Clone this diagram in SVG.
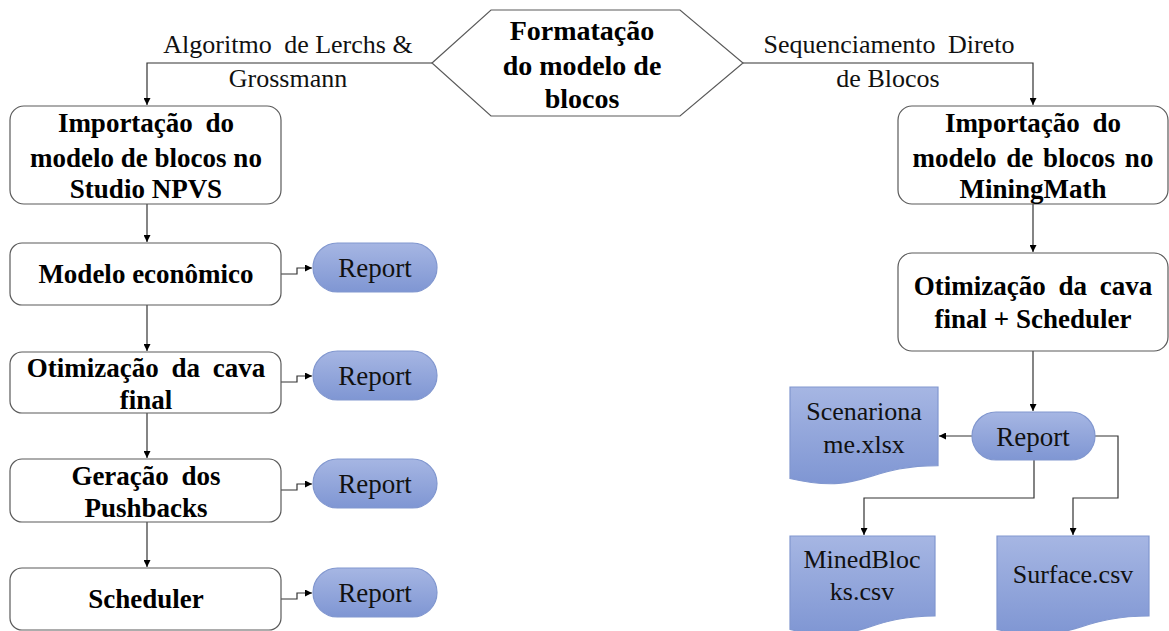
<svg xmlns="http://www.w3.org/2000/svg" width="1169" height="631" viewBox="0 0 1169 631">
<style>
.box{fill:#fff;stroke:#5a5a5a;stroke-width:1.2}
.blue{fill:url(#bg);stroke:#8197cf;stroke-width:1.2}
.bt{font-family:"Liberation Serif","Times New Roman",serif;font-weight:bold;font-size:27px;fill:#000;text-anchor:middle}
.ht{font-family:"Liberation Serif","Times New Roman",serif;font-weight:bold;font-size:28px;fill:#000;text-anchor:middle}
.rt{font-family:"Liberation Serif","Times New Roman",serif;font-size:26px;fill:#111;text-anchor:middle}
.pt{font-family:"Liberation Serif","Times New Roman",serif;font-size:27px;fill:#111;text-anchor:middle}
.ws{word-spacing:6px}
.ln{fill:none;stroke:#333;stroke-width:1.2}
</style>
<defs>
<linearGradient id="bg" x1="0" y1="0" x2="0" y2="1">
<stop offset="0" stop-color="#a6b6e3"/>
<stop offset="1" stop-color="#7f96d3"/>
</linearGradient>
<marker id="ar" viewBox="0 0 10 10" refX="10" refY="5" markerWidth="7" markerHeight="7" markerUnits="userSpaceOnUse" orient="auto">
<path d="M0,0 L10,5 L0,10 Z" fill="#000"/>
</marker>
</defs>
<rect width="1169" height="631" fill="#fff"/>

<g id="connectors">
<path class="ln" d="M432,63 H147 V105" marker-end="url(#ar)"/>
<path class="ln" d="M743,63 H1033 V105" marker-end="url(#ar)"/>
<path class="ln" d="M147,204 V242" marker-end="url(#ar)"/>
<path class="ln" d="M147,305 V351" marker-end="url(#ar)"/>
<path class="ln" d="M147,413 V458" marker-end="url(#ar)"/>
<path class="ln" d="M147,522 V567" marker-end="url(#ar)"/>
<path class="ln" d="M281,274 H297 V268 H312" marker-end="url(#ar)"/>
<path class="ln" d="M281,382 H297 V376 H312" marker-end="url(#ar)"/>
<path class="ln" d="M281,490 H297 V484 H312" marker-end="url(#ar)"/>
<path class="ln" d="M281,599 H297 V593 H312" marker-end="url(#ar)"/>
<path class="ln" d="M1033,204 V252" marker-end="url(#ar)"/>
<path class="ln" d="M1033,351 V411" marker-end="url(#ar)"/>
<path class="ln" d="M972,436 H939" marker-end="url(#ar)"/>
<path class="ln" d="M1034,460 V498 H864 V535" marker-end="url(#ar)"/>
<path class="ln" d="M1095,436 H1118 V498 H1073 V535" marker-end="url(#ar)"/>
<text class="rt" x="288" y="53"><tspan class="ws">Algoritmo </tspan>de Lerchs &amp;</text>
<text class="rt" x="288" y="87">Grossmann</text>
<text class="rt" x="889" y="53"><tspan class="ws">Sequenciamento </tspan>Direto</text>
<text class="rt" x="888" y="87">de Blocos</text>
</g>

<g id="hex">
<polygon class="box" points="432,63 491,10 680,10 743,63 680,116 491,116"/>
<text class="ht" x="582" y="40">Formatação</text>
<text class="ht" x="582" y="75">do modelo de</text>
<text class="ht" x="582" y="108">blocos</text>
</g>

<g id="imp-npvs">
<rect class="box" x="10" y="106" width="271" height="98" rx="14"/>
<text class="bt ws" x="146" y="132">Importação do</text>
<text class="bt" x="146" y="167">modelo de blocos no</text>
<text class="bt" x="146" y="198">Studio NPVS</text>
</g>

<g id="modelo">
<rect class="box" x="10" y="243" width="271" height="62" rx="12"/>
<text class="bt" x="146" y="283">Modelo econômico</text>
</g>

<g id="otim">
<rect class="box" x="10" y="352" width="271" height="61" rx="12"/>
<text class="bt ws" x="146" y="377">Otimização da cava</text>
<text class="bt" x="146" y="409">final</text>
</g>

<g id="pushbacks">
<rect class="box" x="10" y="459" width="271" height="63" rx="12"/>
<text class="bt ws" x="146" y="485">Geração dos</text>
<text class="bt" x="146" y="517">Pushbacks</text>
</g>

<g id="scheduler">
<rect class="box" x="10" y="568" width="271" height="62" rx="12"/>
<text class="bt" x="146" y="608">Scheduler</text>
</g>

<g id="report1">
<rect class="blue" x="313" y="243" width="124" height="49" rx="24.5"/>
<text class="pt" x="375" y="277">Report</text>
</g>
<g id="report2">
<rect class="blue" x="313" y="351" width="124" height="49" rx="24.5"/>
<text class="pt" x="375" y="385">Report</text>
</g>
<g id="report3">
<rect class="blue" x="313" y="459" width="124" height="49" rx="24.5"/>
<text class="pt" x="375" y="493">Report</text>
</g>
<g id="report4">
<rect class="blue" x="313" y="568" width="124" height="49" rx="24.5"/>
<text class="pt" x="375" y="602">Report</text>
</g>

<g id="imp-mm">
<rect class="box" x="898" y="106" width="270" height="98" rx="14"/>
<text class="bt ws" x="1033" y="132">Importação do</text>
<text class="bt" x="1033" y="167" style="word-spacing:3px">modelo de blocos no</text>
<text class="bt" x="1033" y="198">MiningMath</text>
</g>

<g id="otim-sched">
<rect class="box" x="898" y="253" width="270" height="98" rx="14"/>
<text class="bt ws" x="1033" y="295">Otimização da cava</text>
<text class="bt" x="1033" y="328">final + Scheduler</text>
</g>

<g id="report-r">
<rect class="blue" x="972" y="412" width="123" height="48" rx="24"/>
<text class="pt" x="1033" y="446">Report</text>
</g>

<g id="doc-scen">
<path class="blue" d="M790,387 H938 V465.6 C864,465.6 864,495.6 790,478.5 Z"/>
<text class="rt" x="864" y="420">Scenariona</text>
<text class="rt" x="864" y="453">me.xlsx</text>
</g>

<g id="doc-mined">
<path class="blue" d="M790,536 H935 V616 C862,616 862,646.8 790,629.4 Z"/>
<text class="rt" x="862" y="568">MinedBloc</text>
<text class="rt" x="862" y="600">ks.csv</text>
</g>

<g id="doc-surface">
<path class="blue" d="M997,536 H1149 V616 C1073,616 1073,646.8 997,629.4 Z"/>
<text class="rt" x="1073" y="583">Surface.csv</text>
</g>
</svg>
